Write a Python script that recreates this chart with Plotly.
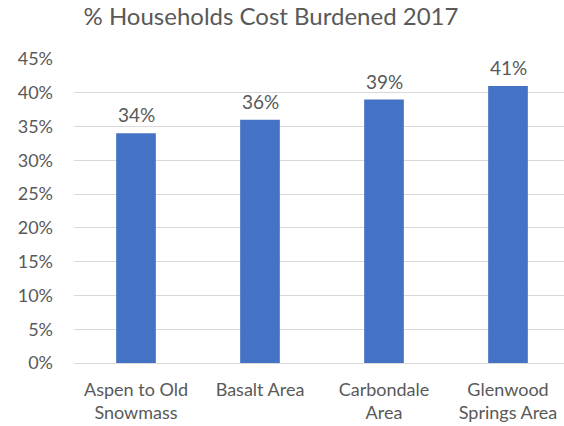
import plotly.graph_objects as go

categories = ["Aspen to Old<br>Snowmass", "Basalt Area", "Carbondale<br>Area", "Glenwood<br>Springs Area"]
values = [0.34, 0.36, 0.39, 0.41]
labels = ["34%", "36%", "39%", "41%"]
tick_vals = [0, 0.05, 0.10, 0.15, 0.20, 0.25, 0.30, 0.35, 0.40, 0.45]
tick_text = ["0%", "5%", "10%", "15%", "20%", "25%", "30%", "35%", "40%", "45%"]

FONT = "Lato"
GRAY = "#595959"

xs = list(range(len(categories)))

fig = go.Figure(go.Bar(
    x=xs, y=values,
    marker=dict(color="#4472C4", line=dict(width=0)),
    width=0.32, hoverinfo="skip",
))

for x, v, t in zip(xs, values, labels):
    fig.add_annotation(x=x, y=v, text=t, showarrow=False, yanchor="bottom",
                       yshift=5, font=dict(family=FONT, size=19, color=GRAY))

fig.update_layout(
    width=564, height=426,
    margin=dict(l=74, r=0, t=59, b=63, autoexpand=False),
    paper_bgcolor="white", plot_bgcolor="white",
    showlegend=False,
    title=dict(text="% Households Cost Burdened 2017", x=271/564, xanchor="center",
               xref="container", y=1 - 17/426, yanchor="middle", automargin=False,
               font=dict(family=FONT, size=24, color=GRAY)),
    xaxis=dict(range=[-0.5, -0.5 + 490/124], tickmode="array",
               tickvals=xs, ticktext=categories, automargin=False,
               showgrid=False, showline=True, linecolor="#D9D9D9", linewidth=1,
               ticks="", tickfont=dict(family=FONT, size=18, color=GRAY),
               ticklabelstandoff=10, fixedrange=True),
    yaxis=dict(range=[0, 0.45], tickmode="array", tickvals=tick_vals, ticktext=tick_text,
               automargin=False,
               showgrid=True, gridcolor="#D9D9D9", gridwidth=1, zeroline=False,
               ticks="", tickfont=dict(family=FONT, size=18, color=GRAY),
               ticklabelstandoff=20, fixedrange=True),
)

fig.write_html("out.html", config={"displayModeBar": False},
               post_script="document.body.style.margin='0';document.body.style.overflow='hidden';")
